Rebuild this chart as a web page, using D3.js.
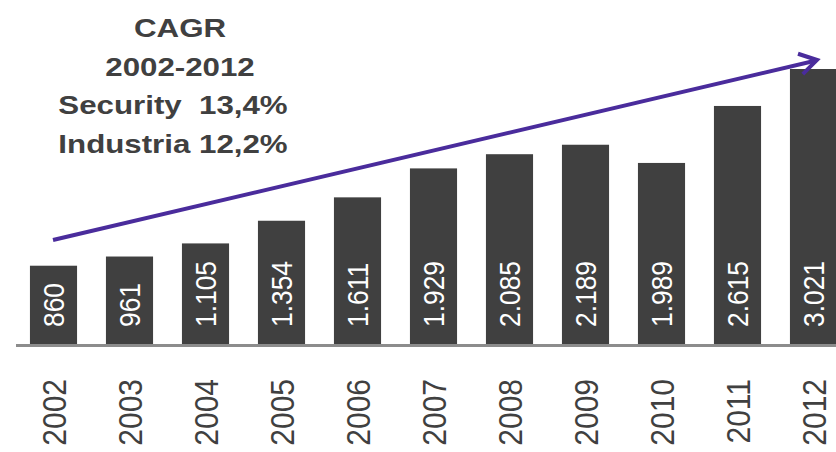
<!DOCTYPE html>
<html>
<head>
<meta charset="utf-8">
<script src="https://cdn.jsdelivr.net/npm/d3@7/dist/d3.min.js"></script>
<style>
  body { margin: 0; background: #fff; }
  svg { display: block; font-family: "Liberation Sans", Arial, sans-serif; }
</style>
</head>
<body>
<svg id="chart" width="836" height="452"></svg>
<script>
// data
var years  = ["2002","2003","2004","2005","2006","2007","2008","2009","2010","2011","2012"];
var values = [860, 961, 1105, 1354, 1611, 1929, 2085, 2189, 1989, 2615, 3021];
var titleLines = ["CAGR", "2002-2012", "Security\u00a0\u00a013,4%", "Industria 12,2%"];

var dim = { w: 836, h: 452, base: 344, top: 69 };
var barColor = "#404040", arrowColor = "#4a2c9c";

var svg = d3.select("#chart");

var fmt = d3.formatLocale({ decimal: ",", thousands: ".", grouping: [3], currency: ["", ""] }).format(",");

var xScale = d3.scaleBand()
               .domain(years)
               .range([30 - 14.5, 30 - 14.5 + 76 * 11])
               .paddingInner(0.38)
               .paddingOuter(0.19);
var yScale = d3.scaleLinear()
               .domain([0, d3.max(values)])
               .range([dim.base, dim.top]);

var data = years.map(function(y, i) { return { year: y, value: values[i] }; });

// bars
svg.selectAll(".bar")
   .data(data)
   .enter().append("rect")
   .attr("class", "bar")
   .attr("x", function(d) { return xScale(d.year); })
   .attr("y", function(d) { return yScale(d.value); })
   .attr("width", xScale.bandwidth())
   .attr("height", function(d) { return dim.base - yScale(d.value); })
   .style("fill", barColor);

// baseline
svg.append("line")
   .attr("x1", 16).attr("x2", dim.w)
   .attr("y1", dim.base + 1.5).attr("y2", dim.base + 1.5)
   .style("stroke", "#8c8c8c")
   .style("stroke-width", 3);

// value labels inside bars (rotated)
var vfs = 26.4;
svg.selectAll(".val")
   .data(data)
   .enter().append("text")
   .attr("class", "val")
   .attr("transform", function(d) {
     return "translate(" + (xScale(d.year) + xScale.bandwidth() / 2) + "," + (dim.base - 17) + ") rotate(-90) scale(1,1.15)";
   })
   .attr("x", 0)
   .attr("y", vfs * 0.358)
   .style("font-size", vfs + "px")
   .style("fill", "#fff")
   .style("text-anchor", "start")
   .text(function(d) { return fmt(d.value); });

// year labels (rotated)
var yfs = 30;
svg.selectAll(".year")
   .data(data)
   .enter().append("text")
   .attr("class", "year")
   .attr("transform", function(d) {
     return "translate(" + (xScale(d.year) + xScale.bandwidth() / 2) + ",379) rotate(-90) scale(1,1.12)";
   })
   .attr("x", 0)
   .attr("y", yfs * 0.358)
   .style("font-size", yfs + "px")
   .style("fill", "#404040")
   .style("text-anchor", "end")
   .text(function(d) { return d.year; });

// growth arrow
var a0 = [53, 240], a1 = [817, 60];
svg.append("line")
   .attr("x1", a0[0]).attr("y1", a0[1])
   .attr("x2", a1[0] - 3).attr("y2", a1[1] + 1)
   .style("stroke", arrowColor)
   .style("stroke-width", 4);
var ang = Math.atan2(a1[1] - a0[1], a1[0] - a0[0]);
var hl = 20, ha = 0.55;
svg.append("path")
   .attr("d", d3.line()([
     [a1[0] - hl * Math.cos(ang - ha), a1[1] - hl * Math.sin(ang - ha)],
     a1,
     [a1[0] - hl * Math.cos(ang + ha), a1[1] - hl * Math.sin(ang + ha)]
   ]))
   .style("fill", "none")
   .style("stroke", arrowColor)
   .style("stroke-width", 4)
   .style("stroke-linejoin", "miter");

// CAGR note
var centers = [180, 180, 173, 173];
svg.selectAll(".note")
   .data(titleLines)
   .enter().append("text")
   .attr("class", "note")
   .attr("transform", function(d, i) { return "translate(" + centers[i] + "," + (37 + i * 38.5) + ") scale(1.18,1)"; })
   .style("font-size", "26.5px")
   .style("font-weight", "bold")
   .style("fill", "#404040")
   .style("text-anchor", "middle")
   .text(function(d) { return d; });
</script>
</body>
</html>
